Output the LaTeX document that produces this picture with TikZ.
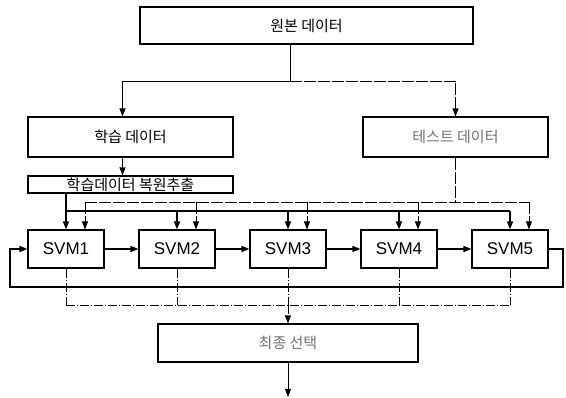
\documentclass[tikz,border=0pt]{standalone}
\usepackage{fontspec}
\setmainfont{Liberation Sans}
\newfontfamily\kr{Noto Sans CJK KR}
\usepackage{tikz}
\usetikzlibrary{arrows.meta,calc}

\begin{document}
\begin{tikzpicture}[x=1pt,y=-1pt,
    >={Triangle[length=8pt,width=6pt]},
    box/.style={draw,line width=1.1pt,inner sep=0pt,
        font=\kr\fontsize{15}{17}\selectfont},
    svmbox/.style={draw,line width=1.1pt,inner sep=0pt,
        minimum width=76pt,minimum height=38pt,
        font=\fontsize{17}{20}\selectfont},
    link/.style={line width=0.9pt},
    train/.style={line width=1.4pt},
    test/.style={line width=0.7pt,dash pattern=on 12pt off 2pt},
    vote/.style={line width=0.7pt,dash pattern=on 9pt off 2pt on 1pt off 2pt},
    faded/.style={text=black!55}]

    \useasboundingbox (0,0) rectangle (566,398);

    % -- Data boxes --
    % original data on top
    \node[box,minimum width=333pt,minimum height=37pt] (orig) at (306.5,25.5)
        {원본 데이터};

    % training data (left) and test data (right)
    \node[box,minimum width=205pt,minimum height=40pt] (learn) at (130.5,137)
        {학습 데이터};
    \node[box,faded,minimum width=185pt,minimum height=40pt] (testd) at (455.5,137)
        {테스트 데이터};

    % bootstrap sampling
    \node[box,minimum width=205pt,minimum height=17pt] (boot) at (130.5,184.5)
        {학습데이터 복원추출};

    % -- the five SVMs in a row --
    \foreach \i in {1,...,5} {
        \node[svmbox] (svm\i) at ({66+111*(\i-1)},249) {SVM\i};
        \coordinate (in\i) at ($(svm\i.north)+(19,0)$);
    }

    % final selection
    \node[box,faded,minimum width=260pt,minimum height=38pt] (final) at (288,343)
        {최종 선택};

    % -- junction points --
    \coordinate (split) at (290,81);
    \coordinate (tbus) at (66,211);
    \coordinate (ebus) at (455,202);
    \coordinate (vbus) at (288,305);
    \coordinate (loopr) at (563,287);
    \coordinate (loopl) at (10,287);
    \coordinate (out) at (288,397);

    % -- split of the original data --
    \draw[link] (orig.south -| split) -- (split);
    \draw[link,->] (split) -| ($(learn.north)+(-8,0)$);
    \draw[test,->] (split) -| (testd.north);
    \draw[link,->] ($(learn.south)+(-8,0)$) -- ($(boot.north)+(-8,0)$);

    % -- training samples to every SVM --
    \draw[train,->] (boot.south -| tbus) -- (svm1.north);
    \draw[train] (tbus) -- (tbus -| svm5);
    \foreach \i in {2,...,5}
        \draw[train,->] (tbus -| svm\i) -- (svm\i.north);

    % -- test data to every SVM --
    \draw[test] (testd.south -| ebus) -- (ebus);
    \draw[test] (in1 |- ebus) -- (in5 |- ebus);
    \foreach \i in {1,...,5}
        \draw[test,->] (in\i |- ebus) -- (in\i);

    % -- chain of SVMs with feedback --
    \foreach \i [count=\j from 2] in {1,...,4}
        \draw[train,->] (svm\i.east) -- (svm\j.west);
    \draw[train,->] (svm5.east) -| (loopr) -- (loopl) |- (svm1.west);

    % -- outputs to the final selection --
    \foreach \i in {1,...,5}
        \draw[vote] (svm\i.south) -- (svm\i.south |- vbus);
    \draw[vote] (svm1.south |- vbus) -- (svm5.south |- vbus);
    \draw[vote,->] (vbus) -- (final.north);
    \draw[link,->] (final.south) -- (out);

\end{tikzpicture}
\end{document}
